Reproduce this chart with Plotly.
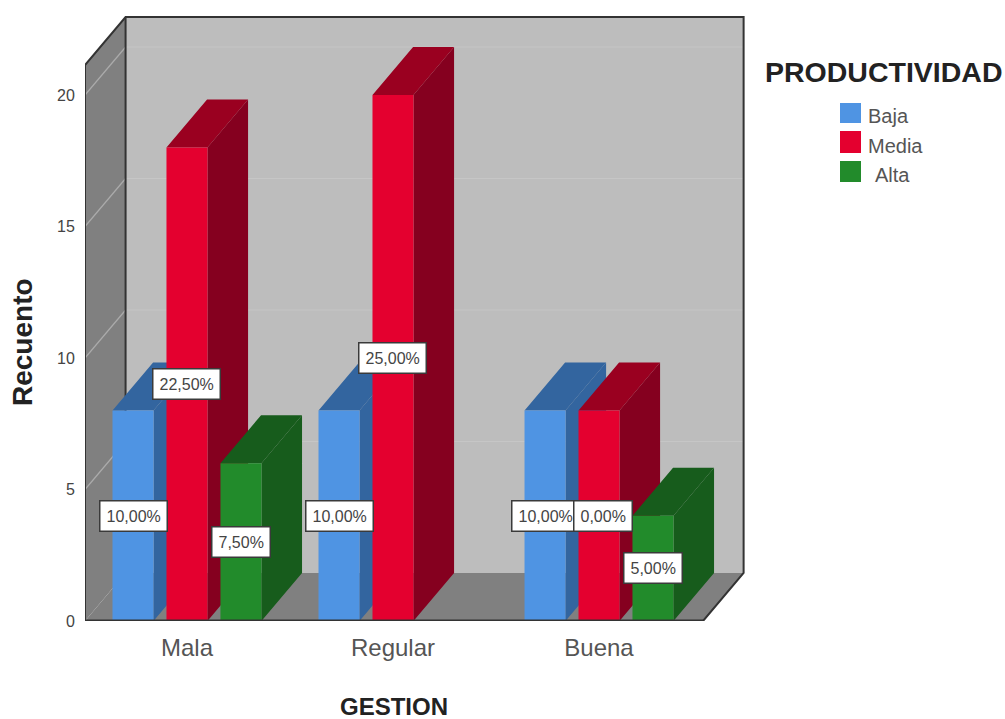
import plotly.graph_objects as go

# Data: counts per management rating and productivity level
categories = ["Mala", "Regular", "Buena"]
series_names = ["Baja", "Media", "Alta"]
baja_counts = [8, 8, 8]
media_counts = [18, 20, 8]
alta_counts = [6, 0, 4]
baja_labels = ["10,00%", "10,00%", "10,00%"]
media_labels = ["22,50%", "25,00%", "0,00%"]
alta_labels = ["7,50%", None, "5,00%"]
y_ticks = [0, 5, 10, 15, 20]

# Palette: (front, side, top) for each series
BAR_COLORS = {
    "Baja": ("#4F94E3", "#33659F", "#33659F"),
    "Media": ("#E4002F", "#85001F", "#9A0020"),
    "Alta": ("#228B2B", "#175C1C", "#175C1C"),
}
WALL = "#BDBDBD"
SIDE_WALL = "#808080"
EDGE = "#333333"
TEXT = "#555555"
SANS = "Liberation Sans"

# Box geometry in axis units
X_LEFT, X_RIGHT = -0.495, 2.505
DEPTH_X, DEPTH_Y = 0.197, 1.825
WALL_TOP = 21.14
BAR_WIDTH = 0.199
BAR_STEP = 0.262

# Plot area placement in the 1005x719 page
M_L, M_T, M_B = 85, 15, 98
PLOT_W = 660
X_RANGE = [X_LEFT, (745 - 187) / 206]
Y_RANGE = [0, (621 - 15) / 26.3]


def polygon_trace(xs, ys, color):
    return go.Scatter(
        x=xs, y=ys, mode="lines", fill="toself", fillcolor=color,
        line=dict(width=0, color=color), hoverinfo="skip", showlegend=False,
        cliponaxis=False,
    )


def edge_trace(xs, ys, width=2.0, color=EDGE):
    return go.Scatter(
        x=xs, y=ys, mode="lines", line=dict(width=width, color=color),
        hoverinfo="skip", showlegend=False, cliponaxis=False,
    )


fig = go.Figure()

# Back wall, left wall and floor of the box
bx0, bx1 = X_LEFT + DEPTH_X, X_RIGHT + DEPTH_X
fig.add_trace(polygon_trace([bx0, bx1, bx1, bx0, bx0],
                            [DEPTH_Y, DEPTH_Y, WALL_TOP + DEPTH_Y, WALL_TOP + DEPTH_Y, DEPTH_Y], WALL))
fig.add_trace(polygon_trace([X_LEFT, bx0, bx0, X_LEFT, X_LEFT],
                            [0, DEPTH_Y, WALL_TOP + DEPTH_Y, WALL_TOP, 0], SIDE_WALL))
fig.add_trace(polygon_trace([X_LEFT, X_RIGHT, bx1, bx0, X_LEFT],
                            [0, 0, DEPTH_Y, DEPTH_Y, 0], SIDE_WALL))

# Gridlines across both walls
for tick in y_ticks[1:]:
    fig.add_trace(edge_trace([bx0, bx1], [tick + DEPTH_Y] * 2, 1.2, "#C6C6C6"))
    fig.add_trace(edge_trace([X_LEFT, bx0], [tick, tick + DEPTH_Y], 1.2, "#ABABAB"))

# Box outline
fig.add_trace(edge_trace([bx0, bx0], [DEPTH_Y, WALL_TOP + DEPTH_Y]))
fig.add_trace(edge_trace([X_LEFT, X_LEFT, bx0, bx1, bx1, X_RIGHT],
                         [0, WALL_TOP, WALL_TOP + DEPTH_Y, WALL_TOP + DEPTH_Y, DEPTH_Y, 0]))

# Bars: each series is drawn side, top, front so later series sit in front
series_counts = [baja_counts, media_counts, alta_counts]
series_labels = [baja_labels, media_labels, alta_labels]
annotations = []
for s, (name, counts, labels) in enumerate(zip(series_names, series_counts, series_labels)):
    front_c, side_c, top_c = BAR_COLORS[name]
    side_x, side_y, top_x, top_y, front_x, front_y = [], [], [], [], [], []
    for c, value in enumerate(counts):
        if value <= 0:
            continue
        x0 = c + (s - 1) * BAR_STEP - BAR_WIDTH / 2
        x1 = x0 + BAR_WIDTH
        front_x += [x0, x1, x1, x0, x0, None]
        front_y += [0, 0, value, value, 0, None]
        side_x += [x1, x1 + DEPTH_X, x1 + DEPTH_X, x1, x1, None]
        side_y += [0, DEPTH_Y, value + DEPTH_Y, value, 0, None]
        top_x += [x0, x1, x1 + DEPTH_X, x0 + DEPTH_X, x0, None]
        top_y += [value, value, value + DEPTH_Y, value + DEPTH_Y, value, None]
        annotations.append(dict(
            x=(x0 + x1) / 2, y=value / 2, xref="x", yref="y", text=labels[c],
            showarrow=False, bgcolor="white", bordercolor="#3A3A3A", borderwidth=1.5,
            borderpad=6, font=dict(family=SANS, size=16, color="#444444"),
            xshift=4 if (name, c) == ("Media", 2) else 0,
        ))
    fig.add_trace(polygon_trace(side_x, side_y, side_c))
    fig.add_trace(polygon_trace(top_x, top_y, top_c))
    fig.add_trace(polygon_trace(front_x, front_y, front_c))

# Floor front edge drawn over the bar bases
fig.add_trace(edge_trace([X_LEFT, X_RIGHT], [0, 0], 3.0))


def px_x(px):
    return (px - M_L) / PLOT_W


def px_y(py):
    return 1 - (py - M_T) / (719 - M_T - M_B)


def page_text(px, py, text, size, color, xanchor="center", angle=0):
    return dict(
        x=px_x(px), y=px_y(py), xref="paper", yref="paper", text=text, textangle=angle,
        xanchor=xanchor, yanchor="middle", showarrow=False,
        font=dict(family=SANS, size=size, color=color),
    )


# Axis titles
annotations.append(page_text(394, 706, "<b>GESTION</b>", 24, "#222222"))
annotations.append(page_text(22, 342, "<b>Recuento</b>", 28, "#222222", angle=-90))

# Legend block to the right of the box
annotations.append(page_text(884, 72, "<b>PRODUCTIVIDAD</b>", 28.5, "#222222"))
shapes = []
legend_rows = [(103, 123, 116, 866), (131, 153, 146, 866), (161, 182, 175, 873)]
for name, (y0, y1, yc, tx) in zip(series_names, legend_rows):
    shapes.append(dict(type="rect", xref="paper", yref="paper",
                       x0=px_x(840), x1=px_x(861), y0=px_y(y0), y1=px_y(y1),
                       fillcolor=BAR_COLORS[name][0], line=dict(width=0)))
    annotations.append(page_text(tx, yc, name, 20, TEXT, xanchor="left"))

fig.update_layout(
    width=1005, height=719,
    margin=dict(l=M_L, r=1005 - M_L - PLOT_W, t=M_T, b=M_B, autoexpand=False),
    paper_bgcolor="white", plot_bgcolor="white",
    showlegend=False, shapes=shapes, annotations=annotations,
    xaxis=dict(
        range=X_RANGE, tickvals=[0, 1, 2], ticktext=categories,
        showgrid=False, zeroline=False, showline=False,
        ticks="outside", ticklen=5, tickcolor="rgba(0,0,0,0)",
        tickfont=dict(family=SANS, size=24, color=TEXT),
    ),
    yaxis=dict(
        range=Y_RANGE, tickvals=y_ticks,
        showgrid=False, zeroline=False, showline=False,
        ticks="outside", ticklen=6, tickcolor="rgba(0,0,0,0)",
        tickfont=dict(family=SANS, size=16, color="#444444"),
    ),
)

fig.write_html("out.html")
